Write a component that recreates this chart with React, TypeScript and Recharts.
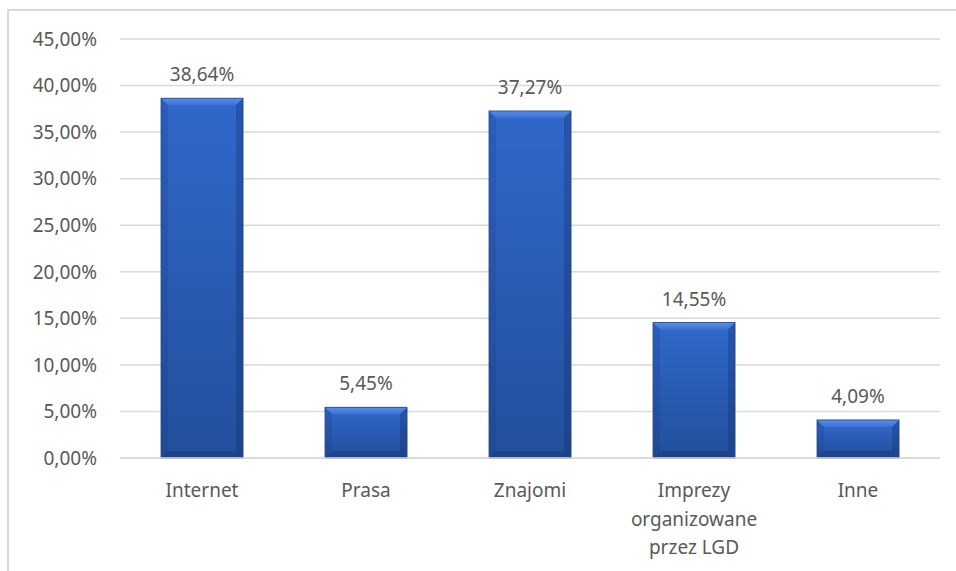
import React from 'react';
import { BarChart, Bar, XAxis, YAxis, CartesianGrid, LabelList } from 'recharts';

const categories = ['Internet', 'Prasa', 'Znajomi', 'Imprezy organizowane przez LGD', 'Inne'];
const categoryLines = [['Internet'], ['Prasa'], ['Znajomi'], ['Imprezy', 'organizowane', 'przez LGD'], ['Inne']];
const values = [38.64, 5.45, 37.27, 14.55, 4.09];
const yTicks = [0, 5, 10, 15, 20, 25, 30, 35, 40, 45];

const data = categories.map((c, i) => ({ name: c, lines: categoryLines[i], value: values[i] }));

const fmt = (v: number) => v.toFixed(2).replace('.', ',') + '%';
const FONT = '"Noto Sans", sans-serif';
const TXT = '#595959';
const FS = 19;

const BevelBar = (props: any) => {
  const { x, y, width, height } = props;
  if (!height || height <= 0) return null;
  const b = Math.min(7, height / 3);
  return (
    <g>
      <rect x={x + 1} y={y + 1} width={width} height={height} fill="rgba(0,0,0,0.10)" />
      <rect x={x} y={y} width={width} height={height} fill="url(#barBody)" />
      <polygon points={`${x},${y} ${x + width},${y} ${x + width - b},${y + b} ${x + b},${y + b}`} fill="url(#barTop)" />
      <polygon points={`${x},${y} ${x + b},${y + b} ${x + b},${y + height - b} ${x},${y + height}`} fill="rgba(20,50,110,0.18)" />
      <polygon points={`${x + width},${y} ${x + width - b},${y + b} ${x + width - b},${y + height - b} ${x + width},${y + height}`} fill="rgba(15,40,95,0.28)" />
      <polygon points={`${x},${y + height} ${x + b},${y + height - b} ${x + width - b},${y + height - b} ${x + width},${y + height}`} fill="rgba(15,40,90,0.3)" />
      <rect x={x} y={y} width={width} height={height} fill="none" stroke="#234684" strokeWidth={0.8} />
    </g>
  );
};

const XTick = (props: any) => {
  const { x, y, payload, index } = props;
  const lines = categoryLines[index] || [payload.value];
  return (
    <text x={x} y={y} textAnchor="middle" fill={TXT} fontSize={FS} fontFamily={FONT}>
      {lines.map((l: string, i: number) => (
        <tspan key={i} x={x} dy={i === 0 ? 31 : 28.5}>{l}</tspan>
      ))}
    </text>
  );
};

export default function App() {
  return (
    <div style={{ position: 'absolute', left: 0, top: 0, width: 956, height: 571, background: '#ffffff', overflow: 'hidden' }}>
      <div style={{ position: 'absolute', left: 7, top: 9, width: 960, height: 580, borderLeft: '2px solid #d9d9d9', borderTop: '2px solid #d9d9d9' }} />
      <div style={{ position: 'absolute', left: 0, top: 0 }}>
        <BarChart width={956} height={571} data={data} margin={{ top: 39, right: 16, bottom: 83, left: 0 }} barCategoryGap="25%">
          <defs>
            <linearGradient id="barBody" x1="0" y1="0" x2="0" y2="1">
              <stop offset="0%" stopColor="#3068cb" />
              <stop offset="100%" stopColor="#234f9c" />
            </linearGradient>
            <linearGradient id="barTop" x1="0" y1="0" x2="0" y2="1">
              <stop offset="0%" stopColor="#5a8ee6" />
              <stop offset="100%" stopColor="#3a72d4" />
            </linearGradient>
          </defs>
          <CartesianGrid vertical={false} stroke="#d9d9d9" strokeWidth={1.5} />
          <XAxis dataKey="name" height={30} axisLine={{ stroke: '#d9d9d9', strokeWidth: 1.5 }} tickLine={false} tick={<XTick />} interval={0} />
          <YAxis width={120} domain={[0, 45]} ticks={yTicks} tickFormatter={fmt} axisLine={false} tickLine={false} tickMargin={17}
            tick={{ fill: TXT, fontSize: FS, fontFamily: FONT }} />
          <Bar dataKey="value" shape={<BevelBar />} isAnimationActive={false}>
            <LabelList dataKey="value" position="top" offset={17} formatter={(v: any) => fmt(Number(v))}
              style={{ fill: TXT, fontSize: FS, fontFamily: FONT }} />
          </Bar>
        </BarChart>
      </div>
    </div>
  );
}
